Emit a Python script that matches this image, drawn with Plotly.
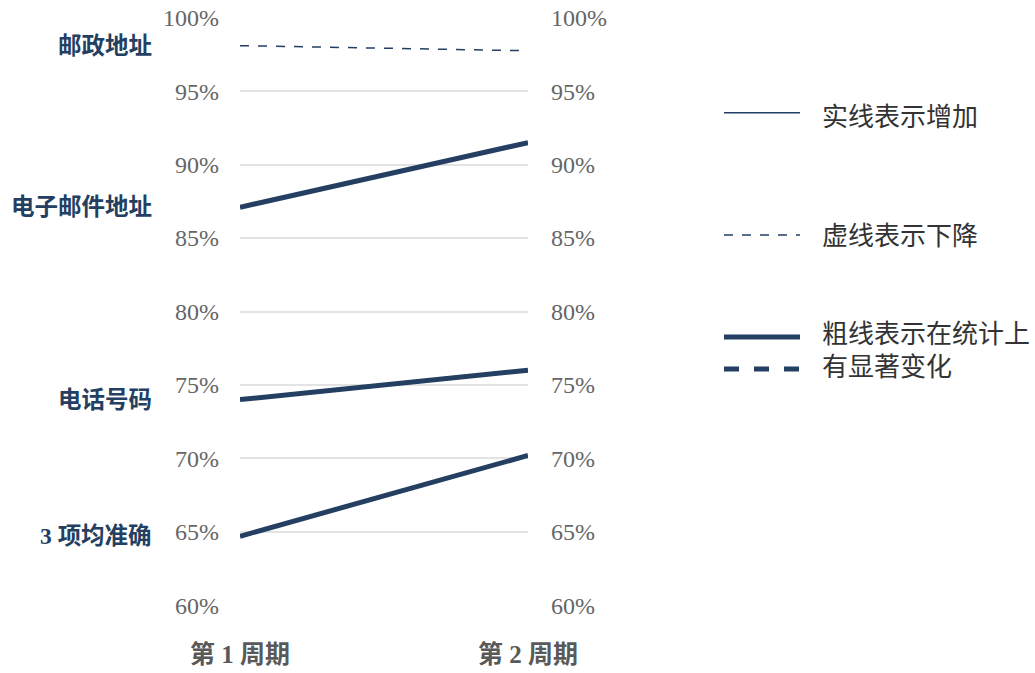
import plotly.graph_objects as go

# ---- data ----
categories = ["邮政地址", "电子邮件地址", "电话号码", "3 项均准确"]
period_labels = ["第 1 周期", "第 2 周期"]
period1 = [98.1, 87.1, 74.0, 64.7]
period2 = [97.75, 91.5, 76.0, 70.2]
significant = [False, True, True, True]
y_ticks = [60, 65, 70, 75, 80, 85, 90, 95, 100]
y_tick_text = [f"{v}%" for v in y_ticks]
legend_rows = ["实线表示增加", "虚线表示下降", "粗线表示在统计上", "有显著变化"]

NAVY = "#243F61"
GRAY = "#666666"
SERIF = "Liberation Serif, Noto Sans CJK SC, serif"

W, H_FIG = 1035, 673
PAD = 0.05  # small range padding so the 100% grid line / labels are drawn
PX_PER_PCT = (605 - 18) / 40.0
PLOT_L, PLOT_R = 240, 528
PLOT_T = 18 - PAD * PX_PER_PCT
PLOT_B = 605 + PAD * PX_PER_PCT
Y_RANGE = [60 - PAD, 100 + PAD]

fig = go.Figure()

for name, a, b, sig in zip(categories, period1, period2, significant):
    dash = "solid" if b >= a else "dash"
    fig.add_trace(go.Scatter(
        x=[0, 1], y=[a, b], mode="lines", name=name,
        line=dict(color=NAVY, width=5 if sig else 1.5, dash=dash),
        showlegend=False, hoverinfo="skip",
    ))
    fig.add_annotation(
        x=0, y=a, xref="paper", yref="y", text=f"<b>{name}</b>",
        showarrow=False, xanchor="right", yanchor="middle", xshift=-86,
        font=dict(family=SERIF, size=23.5, color=NAVY),
    )

# dummy trace for right axis
fig.add_trace(go.Scatter(x=[0, 1], y=Y_RANGE, yaxis="y2", mode="none",
                         showlegend=False, hoverinfo="skip"))

fig.update_layout(
    width=W, height=H_FIG,
    margin=dict(l=PLOT_L, r=W - PLOT_R, t=PLOT_T, b=H_FIG - PLOT_B, autoexpand=False),
    paper_bgcolor="white", plot_bgcolor="white",
    xaxis=dict(range=[0, 1], tickvals=[0, 1], ticktext=[f"<b>{t}</b>" for t in period_labels],
               showgrid=False, zeroline=False, showline=False, ticks="",
               tickfont=dict(family=SERIF, size=25, color="#595959"),
               ticklabelstandoff=31, automargin=False, fixedrange=True),
    yaxis=dict(range=Y_RANGE, tickvals=y_ticks, ticktext=y_tick_text,
               showgrid=True, gridcolor="#e3e3e3", gridwidth=1.5,
               zeroline=False, showline=False, ticks="", automargin=False,
               ticklabeloverflow="allow",
               tickfont=dict(family=SERIF, size=24, color=GRAY),
               ticklabelstandoff=20),
    yaxis2=dict(range=Y_RANGE, tickvals=y_ticks, ticktext=y_tick_text,
                overlaying="y", side="right", showgrid=False, zeroline=False,
                showline=False, ticks="", automargin=False,
                ticklabeloverflow="allow",
                tickfont=dict(family=SERIF, size=24, color=GRAY),
                ticklabelstandoff=22),
    showlegend=False,
)

# ---- legend (drawn manually, positions in reference pixels) ----
PH = float(PLOT_B - PLOT_T)
PW = float(PLOT_R - PLOT_L)
def py(pix):
    return (PLOT_B - pix) / PH
def px(pix):
    return (pix - PLOT_L) / PW

legend_lines = [
    (113, 1.5, "solid"),
    (235, 1.5, "dash"),
    (337, 5, "solid"),
    (369, 5, "dash"),
]
for ypix, w, d in legend_lines:
    fig.add_shape(type="line", xref="paper", yref="paper",
                  x0=px(724), x1=px(800), y0=py(ypix), y1=py(ypix),
                  line=dict(color=NAVY, width=w, dash=d))

for txt, ypix in zip(legend_rows, [118, 237, 334, 367]):
    fig.add_annotation(x=px(820), y=py(ypix), xref="paper", yref="paper",
                       text=txt, showarrow=False, xanchor="left", yanchor="middle",
                       align="left",
                       font=dict(family=SERIF, size=26, color="#333333"))

fig.write_html("out.html",
               config={"displayModeBar": False},
               post_script="document.body.style.margin='0px';document.body.style.overflow='hidden';")
